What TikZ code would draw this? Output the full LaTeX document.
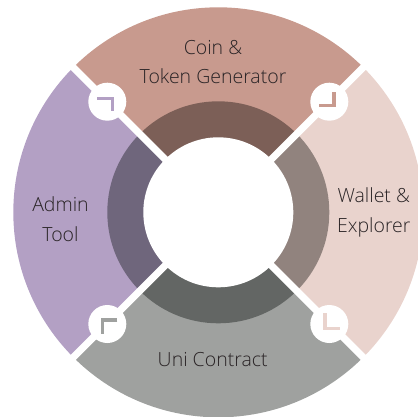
\documentclass[tikz,border=0pt]{standalone}
\usetikzlibrary{calc}
\usepackage{fontspec}
\setmainfont{Open Sans Light}
\definecolor{cpink}{HTML}{C89A8E}
\definecolor{cpinkd}{HTML}{7C5F57}
\definecolor{clight}{HTML}{E9D3CD}
\definecolor{clightd}{HTML}{91837E}
\definecolor{cgray}{HTML}{9FA19F}
\definecolor{cgrayd}{HTML}{636664}
\definecolor{clav}{HTML}{B3A0C4}
\definecolor{clavd}{HTML}{6F667C}
\definecolor{ctext}{HTML}{2A2426}
\tikzset{
  lbl/.style={align=center,text=ctext,inner sep=0pt,font=\fontsize{11.1}{17}\selectfont},
  badge/.style={fill=white,circle,draw=none,minimum size=38*0.02cm,inner sep=0pt},
  chev/.style={line width=3.3*0.02cm,miter limit=10}
}
\begin{document}
\begin{tikzpicture}[x=0.02cm,y=-0.02cm]
\useasboundingbox (0,0) rectangle (418,416);
\clip (0,0) rectangle (418,416);
\coordinate (c) at (218.3,212.3);
\newcommand{\qsector}[4]{%
  \begin{scope}
    \clip (c) -- ++(#1) -- ++(#2) -- ++(#3) -- cycle;
    \fill[#4] (c) circle[radius=205*0.02cm];
  \end{scope}}
\newcommand{\qinner}[4]{%
  \begin{scope}
    \clip (c) -- ++(#1) -- ++(#2) -- ++(#3) -- cycle;
    \fill[#4] (c) circle[radius=111*0.02cm];
  \end{scope}}
\qsector{-300,-300}{600,0}{0,0}{cpink}
\qsector{300,-300}{0,600}{0,0}{clight}
\qsector{300,300}{-600,0}{0,0}{cgray}
\qsector{-300,300}{0,-600}{0,0}{clav}
\qinner{-300,-300}{600,0}{0,0}{cpinkd}
\qinner{300,-300}{0,600}{0,0}{clightd}
\qinner{300,300}{-600,0}{0,0}{cgrayd}
\qinner{-300,300}{0,-600}{0,0}{clavd}
\coordinate (a1) at ($(c)+(-300,-300)$);
\coordinate (a2) at ($(c)+(300,300)$);
\coordinate (b1) at ($(c)+(300,-300)$);
\coordinate (b2) at ($(c)+(-300,300)$);
\draw[white,line width=7.07*0.02cm] (a1) -- (a2);
\draw[white,line width=7.07*0.02cm] (b1) -- (b2);
\fill[white] (c) circle[radius=75*0.02cm];
\node[badge] (tl) at (107.3,101.7) {};
\node[badge] (tr) at (329.3,101.7) {};
\node[badge] (bl) at (107.3,324) {};
\node[badge] (br) at (329.3,324) {};
\draw[chev,clav] (97.3,98.3) -- (112.5,98.3) -- (112.5,111);
\draw[chev,cpink] (319.3,105.7) -- (334,105.7) -- (334,91.7);
\draw[chev,cgray] (117.3,320) -- (102.7,320) -- (102.7,334);
\draw[chev,clight] (325,313.3) -- (325,328.3) -- (340,328.3);
\node[lbl] (coin) at (213,62) {Coin \&\\Token Generator};
\node[lbl] (wallet) at (373.8,212) {Wallet \&\\Explorer};
\node[lbl] (admin) at (60.5,219) {Admin\\Tool};
\node[lbl] (uni) at (212.7,360) {Uni Contract};
\end{tikzpicture}
\end{document}
